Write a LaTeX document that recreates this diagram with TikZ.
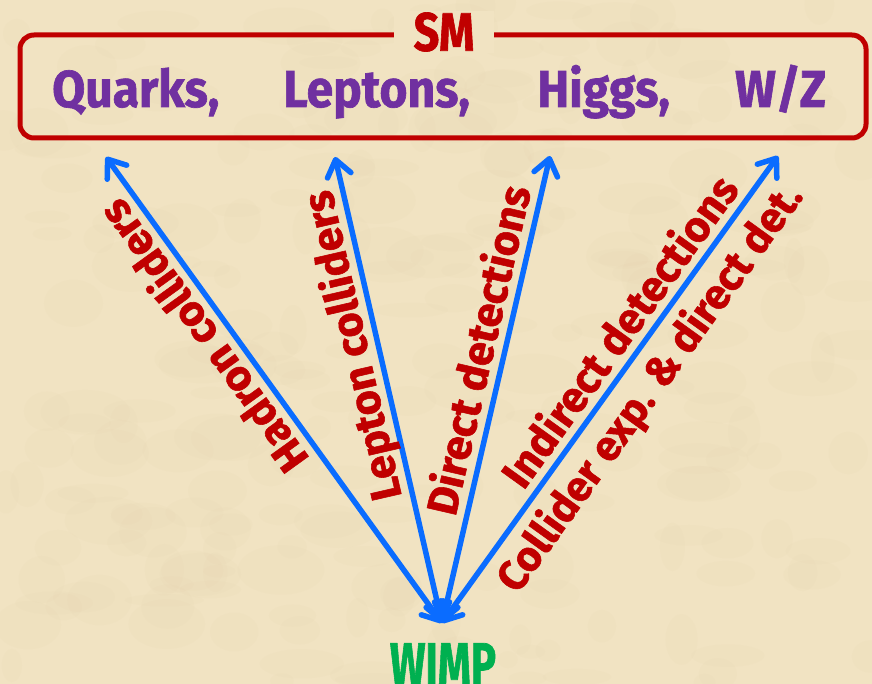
\documentclass[tikz,border=0pt]{standalone}
\usepackage{fontspec}
\setmainfont{Fira Sans}
\newfontfamily\heavyfont{Fira Sans}[FakeBold=1.3]
\usetikzlibrary{arrows.meta}
\definecolor{bg}{RGB}{241,227,194}
\definecolor{bgdark}{RGB}{214,190,145}
\definecolor{smred}{RGB}{192,0,0}
\definecolor{smpurple}{RGB}{112,48,160}
\definecolor{arrowblue}{RGB}{10,108,255}
\definecolor{wimpgreen}{RGB}{0,176,80}
\begin{document}
\begin{tikzpicture}[x=1pt,y=-1pt,
  flow/.style={draw=arrowblue, line width=5.5pt, line cap=round,
    {Straight Barb[length=16pt,width=24pt,round]}-{Straight Barb[length=16pt,width=24pt,round]}},
  lab/.style={text=smred, font=\fontsize{43}{45}\heavyfont\bfseries, inner xsep=0pt,
    inner ysep=8pt, text depth=0pt, sloped, allow upside down},
  labover/.style={lab, anchor=south},
  labunder/.style={lab, anchor=north, font=\fontsize{42}{44}\heavyfont\bfseries},
  smitem/.style={text=smpurple, font=\fontsize{48}{50}\heavyfont\bfseries, inner sep=0pt, anchor=base west},
]
\clip (0,0) rectangle (872,684);
\fill[bg] (0,0) rectangle (872,684);
% parchment mottling
\pgfmathsetseed{7}
\foreach \i in {1,...,260}{
  \pgfmathsetmacro{\px}{rnd*872}
  \pgfmathsetmacro{\py}{rnd*684}
  \pgfmathsetmacro{\rx}{10+rnd*35}
  \pgfmathsetmacro{\ry}{6+rnd*20}
  \fill[bgdark, opacity=0.045] (\px,\py) ellipse [x radius=\rx pt, y radius=\ry pt];
}

% SM box
\node[draw=smred, line width=5pt, rounded corners=14pt, minimum width=846pt, minimum height=103pt, inner sep=0pt] (smbox) at (443,86.5) {};
\node[fill=bg, minimum width=100pt, minimum height=42pt, inner sep=0pt, text=smred,
  font=\fontsize{45}{47}\heavyfont\bfseries] (sm) at (444,32) {\scalebox{1}[1.2]{SM}};
\node[smitem] (quarks) at (52,107) {\scalebox{1}[1.08]{Quarks,}};
\node[smitem] (leptons) at (283,107) {\scalebox{1}[1.08]{Leptons,}};
\node[smitem] (higgs) at (537,107) {\scalebox{1}[1.08]{Higgs,}};
\node[smitem] (wz) at (735,107) {\scalebox{1}[1.08]{W/Z}};

% WIMP
\node[text=wimpgreen, font=\fontsize{42}{44}\heavyfont\bfseries, anchor=north, inner sep=0pt] (wimp) at (443,643) {\scalebox{1}[1.4]{WIMP}};

\coordinate (W) at (442,623);
\coordinate (Ht) at (106,157);
\coordinate (Lt) at (335,157);
\coordinate (Dt) at (550,156);
\coordinate (It) at (778,156);

\draw[flow] (W) -- node[labover, pos=0.648] (hadron) {Hadron colliders} (Ht);
\draw[flow] (W) -- node[labover, pos=0.607] (lepton) {Lepton colliders} (Lt);
\draw[flow] (W) -- node[labover, pos=0.572] (direct) {Direct detections} (Dt);
\draw[flow] (W) -- node[labover, pos=0.592] (indirect) {Indirect detections}
                   node[labunder, pos=0.543] (collider) {Collider exp. \& direct det.} (It);
\end{tikzpicture}
\end{document}
